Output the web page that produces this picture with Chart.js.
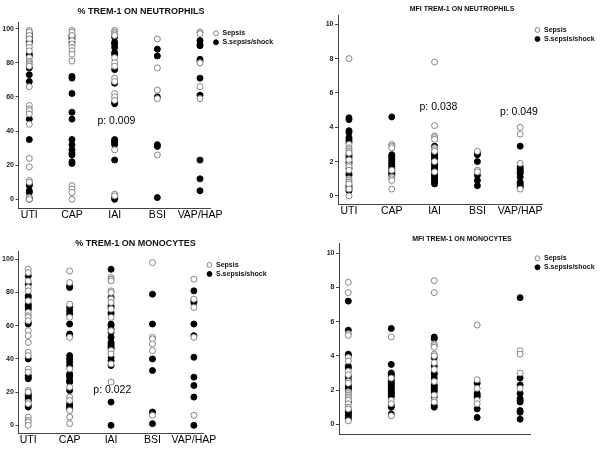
<!DOCTYPE html>
<html>
<head>
<meta charset="utf-8">
<script src="https://cdn.jsdelivr.net/npm/chart.js@4"></script>
<style>
  body { margin: 0; background: #fff; }
  #wrap { position: relative; width: 600px; height: 450px; }
  canvas { position: absolute; }
</style>
</head>
<body>
<div id="wrap">
  <canvas id="c1" width="300" height="225" style="left:0;top:0"></canvas>
  <canvas id="c2" width="300" height="225" style="left:300px;top:0"></canvas>
  <canvas id="c3" width="300" height="225" style="left:0;top:225px"></canvas>
  <canvas id="c4" width="300" height="225" style="left:300px;top:225px"></canvas>
</div>
<script>
const categories = ['UTI', 'CAP', 'IAI', 'BSI', 'VAP/HAP'];
const groups = ['Sepsis', 'S.sepsis/shock'];
const titles = ['% TREM-1 ON NEUTROPHILS', 'MFI TREM-1 ON NEUTROPHILS', '% TREM-1 ON MONOCYTES', 'MFI TREM-1 ON MONOCYTES'];
const pctTicks = [0, 20, 40, 60, 80, 100];
const mfiTicks = [0, 2, 4, 6, 8, 10];
const pTexts = ['p: 0.009', 'p: 0.038', 'p: 0.049', 'p: 0.022'];

// one inner array per category (UTI, CAP, IAI, BSI, VAP/HAP)
const neutPctSepsis = [
  [99, 98, 96, 94, 91, 89, 87, 83, 81, 80, 79, 78, 66, 55, 53, 52, 50, 44, 24, 19, 11, 10, 1, 0],
  [99, 98, 96, 93, 91, 89, 87, 85, 81, 8, 6, 4, 0],
  [99, 98, 97, 96, 83, 80, 78, 71, 69, 62, 60, 58, 29, 3, 2],
  [94, 77, 64, 59, 26],
  [98, 97, 80, 66, 59]
];
const neutPctShock = [
  [97, 96, 95, 94, 93, 92, 85, 84, 77, 73, 69, 47, 35, 9, 8, 5, 4, 1, 0],
  [96, 95, 94, 92, 72, 71, 62, 51, 47, 35, 32, 29, 27, 26, 22, 21],
  [95, 92, 91, 89, 86, 85, 76, 68, 57, 56, 35, 34, 33, 32, 23, 1, 0],
  [88, 84, 60, 32, 31, 1],
  [93, 91, 90, 82, 81, 71, 61, 23, 12, 5]
];
const neutMfiSepsis = [
  [8.0, 3.0, 2.8, 2.7, 2.6, 2.5, 2.1, 1.8, 1.7, 1.5, 1.0, 0.9, 0.8, 0.7, 0.4, 0.0],
  [3.0, 2.9, 2.8, 1.5, 1.1, 1.0, 0.9, 0.4],
  [7.8, 4.1, 3.5, 3.4, 3.3, 2.8, 2.7, 2.6, 2.0, 1.4],
  [2.6, 1.5, 1.4],
  [4.0, 3.6, 1.9, 0.4]
];
const neutMfiShock = [
  [4.55, 4.45, 3.8, 3.7, 3.4, 3.3, 3.2, 3.1, 2.4, 2.3, 2.2, 2.0, 1.9, 1.6, 1.3, 1.2, 0.6, 0.5, 0.4, 0.3],
  [4.6, 2.4, 2.3, 2.2, 2.1, 2.0, 1.9, 1.8, 1.7, 1.6, 1.5, 1.4, 1.3, 1.2],
  [2.9, 2.8, 2.5, 2.4, 2.3, 2.2, 2.1, 2.0, 1.9, 1.8, 1.7, 1.6, 1.5, 1.4, 1.3, 1.2, 1.1, 1.0, 0.9, 0.8, 0.7],
  [2.5, 2.4, 2.0, 1.2, 0.9, 0.6],
  [2.9, 1.7, 1.6, 1.5, 1.4, 1.3, 1.1, 0.8, 0.7, 0.6, 0.5]
];
const monoPctSepsis = [
  [94, 92, 87, 83, 81, 75, 68, 66, 65, 63, 57, 54, 50, 44, 42, 34, 32, 21, 20, 14, 13, 5, 3, 2, 0],
  [93, 86, 73, 65, 53, 34, 23, 17, 15, 9, 5, 1],
  [89, 88, 87, 81, 80, 76, 74, 70, 65, 57, 45, 43, 37, 26],
  [98, 53, 52, 49, 45, 6],
  [88, 76, 71, 53, 6]
];
const monoPctShock = [
  [90, 85, 78, 77, 73, 72, 71, 70, 62, 61, 40, 30, 29, 28, 19, 18, 17, 16, 15, 12, 11],
  [84, 83, 71, 69, 67, 61, 55, 54, 42, 40, 38, 36, 31, 30, 29, 27, 26, 21, 13, 12, 11, 10],
  [94, 77, 72, 71, 68, 67, 61, 60, 58, 56, 53, 50, 49, 48, 47, 46, 41, 39, 36, 14, 0],
  [79, 61, 40, 33, 8, 1],
  [81, 75, 74, 61, 54, 41, 29, 24, 17, 0]
];
const monoMfiSepsis = [
  [8.3, 7.7, 5.3, 5.2, 3.9, 3.7, 3.1, 2.9, 2.5, 2.4, 1.9, 1.8, 1.7, 1.6, 1.5, 1.4, 1.2, 1.0, 0.9, 0.2],
  [5.1, 2.7, 1.4, 1.2, 0.5],
  [8.4, 7.7, 4.7, 4.6, 4.5, 4.1, 4.0, 3.6, 3.2, 2.5, 1.7, 1.4, 1.3],
  [5.8, 2.6, 2.1, 1.4, 1.2],
  [4.3, 4.1, 3.0, 2.1]
];
const monoMfiShock = [
  [7.2, 5.5, 4.1, 4.0, 3.4, 3.3, 2.8, 2.6, 2.3, 2.2, 2.1, 2.0, 1.3, 0.8, 0.7, 0.6, 0.5, 0.4, 0.3],
  [5.6, 3.5, 3.0, 2.9, 2.8, 2.6, 2.5, 2.4, 2.3, 2.2, 2.1, 2.0, 1.9, 1.8, 1.7, 1.6, 1.1, 1.0, 0.6],
  [5.1, 5.0, 3.9, 3.4, 3.0, 2.9, 2.7, 2.3, 2.2, 2.1, 2.0, 1.9, 1.6, 1.1, 1.0],
  [2.4, 1.8, 1.7, 1.6, 0.9, 0.4],
  [7.4, 2.7, 2.3, 1.8, 1.5, 1.4, 1.3, 0.8, 0.7, 0.3]
];

Chart.defaults.font.family = "'Liberation Sans', Arial, sans-serif";
Chart.defaults.color = '#111';

const axisColor = '#444';

function toPoints(byCat) {
  const pts = [];
  byCat.forEach((vals, i) => vals.forEach(v => pts.push({ x: i, y: v })));
  return pts;
}

// legend keeps a reserved strip on the right but is drawn at a fixed spot
function legendPlace(reserve, left, top) {
  return {
    id: 'legendPlace',
    beforeInit(chart) {
      const lg = chart.legend;
      const fit = lg.fit;
      lg.fit = function () { fit.call(this); this.width = reserve; };
    },
    afterLayout(chart) {
      const lg = chart.legend;
      lg.left = left; lg.right = left + 90;
      lg.top = top; lg.bottom = top + 40;
      lg.width = 90; lg.height = 40;
    }
  };
}

function notesPlugin(notes) {
  return {
    id: 'pNotes',
    afterDatasetsDraw(chart) {
      const { ctx, scales } = chart;
      ctx.save();
      ctx.font = "10.5px 'Liberation Sans', Arial, sans-serif";
      ctx.fillStyle = '#000';
      ctx.textAlign = 'center';
      ctx.textBaseline = 'middle';
      notes.forEach(n => ctx.fillText(n.text, scales.x.getPixelForValue(n.x), scales.y.getPixelForValue(n.y)));
      ctx.restore();
    }
  };
}

const panels = [
  { id: 'c1', title: titles[0], titleSize: 9, titlePad: { top: 6.3, bottom: 4.9 }, padL: 0, padR: 18,
    yW: 18.5, xH: 17, legendW: 72, legendAt: [211, 27.8], xMin: -0.253, xMax: 4.234, yMin: -5.1, yMax: 103.9,
    ticks: pctTicks, sepsis: neutPctSepsis, shock: neutPctShock, showX: true,
    notes: [{ text: pTexts[0], x: 2.04, y: 46 }] },
  { id: 'c2', title: titles[1], titleSize: 7, titlePad: { top: 4.8, bottom: 1.8 }, padL: 24, padR: 0,
    yW: 14, xH: 21, legendW: 58, legendAt: [232.5, 24.5], xMin: -0.257, xMax: 4.51, yMin: -0.47, yMax: 10.54,
    ticks: mfiTicks, sepsis: neutMfiSepsis, shock: neutMfiShock, showX: true,
    notes: [{ text: pTexts[1], x: 2.09, y: 5.2 }, { text: pTexts[2], x: 3.97, y: 4.91 }] },
  { id: 'c3', title: titles[2], titleSize: 9, titlePad: { top: 13.6, bottom: 1.6 }, padL: 0, padR: 29,
    yW: 18.3, xH: 16.7, legendW: 68, legendAt: [204.5, 34.5], xMin: -0.24, xMax: 4.22, yMin: -4.8, yMax: 105,
    ticks: pctTicks, sepsis: monoPctSepsis, shock: monoPctShock, showX: true,
    notes: [{ text: pTexts[3], x: 2.03, y: 21.3 }] },
  { id: 'c4', title: titles[3], titleSize: 7, titlePad: { top: 9.8, bottom: 0.1 }, padL: 24, padR: 0,
    yW: 15, xH: 15.7, legendW: 70, legendAt: [232.5, 27.8], xMin: -0.217, xMax: 4.23, yMin: -0.585, yMax: 10.58,
    ticks: mfiTicks, sepsis: monoMfiSepsis, shock: monoMfiShock, showX: false,
    notes: [] }
];

panels.forEach(p => {
  const ctx = document.getElementById(p.id).getContext('2d');
  new Chart(ctx, {
    type: 'scatter',
    data: {
      datasets: [{
        label: groups[0],
        data: toPoints(p.sepsis),
        backgroundColor: '#fff',
        borderColor: '#858585',
        borderWidth: 1,
        pointRadius: 3
      }, {
        label: groups[1],
        data: toPoints(p.shock),
        backgroundColor: '#000',
        borderColor: '#000',
        borderWidth: 1,
        pointRadius: 3
      }]
    },
    options: {
      responsive: false,
      animation: false,
      devicePixelRatio: 1,
      layout: { padding: { left: p.padL, right: p.padR, top: 0, bottom: 0 } },
      plugins: {
        title: {
          display: true,
          text: p.title,
          color: '#111',
          font: { size: p.titleSize, weight: 'bold' },
          padding: p.titlePad
        },
        legend: {
          position: 'right',
          align: 'start',
          labels: {
            usePointStyle: true,
            boxWidth: 6,
            boxHeight: 3.5,
            padding: 2,
            color: '#111',
            font: { size: 7, weight: 'bold' }
          }
        },
        tooltip: { enabled: false }
      },
      scales: {
        x: {
          type: 'linear',
          min: p.xMin,
          max: p.xMax,
          afterBuildTicks: s => { s.ticks = categories.map((c, i) => ({ value: i })); },
          afterFit: s => { s.height = p.xH; },
          grid: { display: false, drawTicks: false },
          border: { display: true, color: axisColor, width: 1 },
          ticks: {
            display: p.showX,
            padding: 1,
            autoSkip: false,
            maxRotation: 0,
            color: '#000',
            font: { size: 10.5 },
            callback: v => categories[v]
          }
        },
        y: {
          min: p.yMin,
          max: p.yMax,
          afterBuildTicks: s => { s.ticks = p.ticks.map(v => ({ value: v })); },
          afterFit: s => { s.width = p.yW; },
          grid: { display: true, drawOnChartArea: false, drawTicks: true, tickLength: 3, color: axisColor },
          border: { display: true, color: axisColor, width: 1 },
          ticks: {
            padding: 1.5,
            color: '#222',
            font: { size: 7, weight: 'bold' }
          }
        }
      }
    },
    plugins: [legendPlace(p.legendW, p.legendAt[0], p.legendAt[1]), notesPlugin(p.notes)]
  });
});
</script>
</body>
</html>
